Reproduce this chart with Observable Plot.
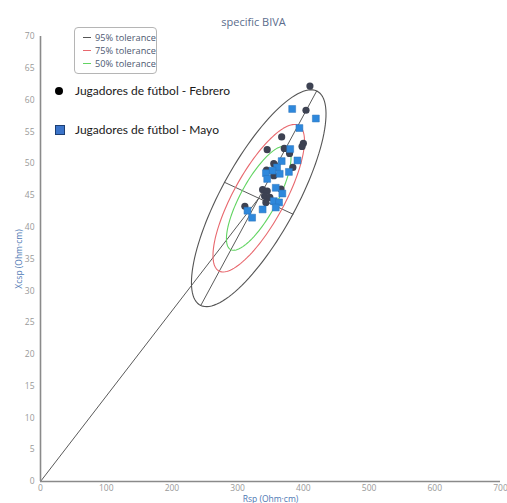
<!DOCTYPE html>
<html>
<head>
<meta charset="utf-8">
<script src="https://cdn.jsdelivr.net/npm/d3@7"></script>
<script src="https://cdn.jsdelivr.net/npm/@observablehq/plot@0.6"></script>
<style>
  body { margin: 0; background: #fff; }
  #wrap { position: relative; width: 507px; height: 503px; overflow: hidden; }
  #title { height: 30px; width: 507px; text-align: center; font: 11px "Open Sans", sans-serif; color: #5b6d8c; line-height: 30px; padding-top: 7px; box-sizing: border-box; }
  #tolbox { position: absolute; left: 74px; top: 27px; width: 81px; height: 45px; border: 1px solid #b5b5b5; border-radius: 4px; background: #fff; }
  .tol { position: absolute; left: 8px; font: 9.2px "Open Sans", sans-serif; color: #4d5870; white-space: nowrap; }
  .tol span.sw { display: inline-block; width: 8px; height: 0; border-top: 1px solid; vertical-align: middle; margin-right: 4px; position: relative; top: -1px; }
  .grp { position: absolute; left: 75px; font: 12px Lato, sans-serif; color: #1a1a1a; white-space: nowrap; }
  .mk { position: absolute; }
  #chart svg text { fill: #999; }
  #chart svg g[aria-label="x-axis label"] text, #chart svg g[aria-label="y-axis label"] text { fill: #4d77b3; }
</style>
</head>
<body>
<div id="wrap">
  <div id="title"></div>
  <div id="chart"></div>
  <div id="tolbox"></div>
  <div id="grp"></div>
</div>
<script>
// ---- data ----
const febreroRsp  = [410, 404, 367, 345, 371, 379, 400, 398, 384, 355, 344, 355, 338, 345, 341, 349, 343, 366, 311];
const febreroXcsp = [62.2, 58.4, 54.2, 52.2, 52.4, 51.6, 53.2, 52.7, 49.4, 50.0, 49.0, 48.1, 45.9, 45.7, 44.9, 44.7, 43.9, 46.0, 43.3];
const mayoRsp  = [383, 419, 394, 380, 391, 367, 360, 353, 343, 364, 378, 345, 358, 368, 355, 363, 358, 338, 315, 322];
const mayoXcsp = [58.6, 57.1, 55.6, 52.3, 50.5, 50.4, 49.4, 48.9, 48.5, 48.4, 48.7, 47.6, 46.2, 45.3, 44.1, 43.9, 43.1, 42.8, 42.6, 41.5];

const xTicks = [0, 100, 200, 300, 400, 500, 600, 700];
const yTicks = [0, 5, 10, 15, 20, 25, 30, 35, 40, 45, 50, 55, 60, 65, 70];

// tolerance ellipse (centre, conjugate semi-diameters in data units), scale per level
const ellipseCenter = [332.1, 44.56];
const ellipseMajor  = [88.2, 16.87];
const ellipseMinor  = [52.0, -2.5];
const toleranceLabels = ["95% tolerance", "75% tolerance", "50% tolerance"];
const toleranceScale  = [1, 0.68, 0.48];
const groupLabels = ["Jugadores de fútbol - Febrero", "Jugadores de fútbol - Mayo"];
const titleText = "specific BIVA";
const xLabel = "Rsp (Ohm·cm)";
const yLabel = "Xcsp (Ohm·cm)";

// ---- styles ----
const tolColors = ["#555555", "#e8686e", "#62d462"];
const febColor = "#3d4252";
const mayColor = "#2e88dc";

// ---- build tables ----
const feb = febreroRsp.map((x, i) => ({x, y: febreroXcsp[i]}));
const may = mayoRsp.map((x, i) => ({x, y: mayoXcsp[i]}));
const ellipse = (s) => d3.range(0, 121).map(k => {
  const t = k / 120 * 2 * Math.PI;
  return {
    x: ellipseCenter[0] + s * (ellipseMajor[0] * Math.cos(t) + ellipseMinor[0] * Math.sin(t)),
    y: ellipseCenter[1] + s * (ellipseMajor[1] * Math.cos(t) + ellipseMinor[1] * Math.sin(t))
  };
});
const majorAxis = [
  {x: ellipseCenter[0] - ellipseMajor[0], y: ellipseCenter[1] - ellipseMajor[1]},
  {x: ellipseCenter[0] + ellipseMajor[0], y: ellipseCenter[1] + ellipseMajor[1]}
];
const minorAxis = [
  {x: ellipseCenter[0] - ellipseMinor[0], y: ellipseCenter[1] - ellipseMinor[1]},
  {x: ellipseCenter[0] + ellipseMinor[0], y: ellipseCenter[1] + ellipseMinor[1]}
];
const originLine = [{x: 0, y: 0}, {x: ellipseCenter[0], y: ellipseCenter[1]}];

document.getElementById("title").textContent = titleText;

const chart = Plot.plot({
  width: 507,
  height: 473,
  marginLeft: 40,
  marginRight: 7,
  marginTop: 6,
  marginBottom: 22,
  style: {fontFamily: "'Open Sans', sans-serif", fontSize: "8.5px", background: "#fff"},
  x: {domain: [0, 700]},
  y: {domain: [0, 70]},
  marks: [
    Plot.axisX({ticks: xTicks, tickSize: 0, tickPadding: 3, label: xLabel, labelAnchor: "center", labelOffset: 20, labelArrow: "none", fontSize: 8.5}),
    Plot.axisY({ticks: yTicks, tickSize: 0, tickPadding: 6, label: yLabel, labelAnchor: "center", labelOffset: 25, labelArrow: "none", fontSize: 8.5}),
    Plot.line(originLine, {x: "x", y: "y", stroke: "#5a5a5a", strokeWidth: 1}),
    Plot.line(majorAxis, {x: "x", y: "y", stroke: "#5a5a5a", strokeWidth: 1}),
    Plot.line(minorAxis, {x: "x", y: "y", stroke: "#5a5a5a", strokeWidth: 1}),
    Plot.line(ellipse(toleranceScale[0]), {x: "x", y: "y", stroke: tolColors[0], strokeWidth: 1.1}),
    Plot.line(ellipse(toleranceScale[1]), {x: "x", y: "y", stroke: tolColors[1], strokeWidth: 1.1}),
    Plot.line(ellipse(toleranceScale[2]), {x: "x", y: "y", stroke: tolColors[2], strokeWidth: 1.1}),
    Plot.ruleX([0], {stroke: "#8a8a8a", strokeWidth: 1.6}),
    Plot.ruleY([0], {stroke: "#8a8a8a", strokeWidth: 1.6}),
    Plot.dot(feb, {x: "x", y: "y", r: 3.6, fill: febColor, stroke: "none"}),
    Plot.dot(may, {x: "x", y: "y", r: 3.9, symbol: "square", fill: mayColor, stroke: "#2a72bb", strokeWidth: 0.5})
  ]
});
document.getElementById("chart").appendChild(chart);

// tolerance legend box
const box = document.getElementById("tolbox");
toleranceLabels.forEach((t, i) => {
  const d = document.createElement("div");
  d.className = "tol";
  d.style.top = (3 + i * 12.8) + "px";
  d.innerHTML = `<span class="sw" style="border-color:${tolColors[i]}"></span>`;
  d.appendChild(document.createTextNode(t));
  box.appendChild(d);
});

// group legend
const grp = document.getElementById("grp");
const mk1 = document.createElement("div");
mk1.className = "mk";
Object.assign(mk1.style, {left: "55px", top: "87px", width: "8px", height: "8px", borderRadius: "50%", background: "#000"});
grp.appendChild(mk1);
const mk2 = document.createElement("div");
mk2.className = "mk";
Object.assign(mk2.style, {left: "55px", top: "125px", width: "8px", height: "8px", background: "#3b74c9", border: "0.6px solid #1d3f73"});
grp.appendChild(mk2);
[[groupLabels[0], 83], [groupLabels[1], 122]].forEach(([t, top]) => {
  const d = document.createElement("div");
  d.className = "grp";
  d.style.top = top + "px";
  d.textContent = t;
  grp.appendChild(d);
});
</script>
</body>
</html>
